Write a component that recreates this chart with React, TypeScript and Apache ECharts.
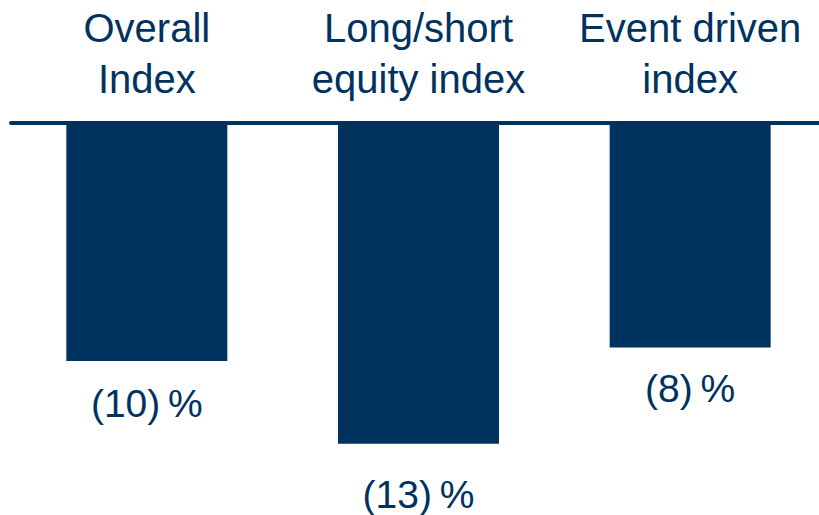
import React, { useEffect, useRef } from "react";
import * as echarts from "echarts";

const categories = ["Overall\nIndex", "Long/short\nequity index", "Event driven\nindex"];
const values = [-9.65, -13.0, -9.1];
const valueLabels = ["(10)\u2009%", "(13)\u2009%", "(8)\u2009%"];
const labelGaps = [23, 31, 21];

const NAVY = "#00325F";
const FONT = "'Liberation Sans', Arial, Helvetica, sans-serif";

export default function App() {
  const ref = useRef<HTMLDivElement>(null);
  useEffect(() => {
    const chart = echarts.init(ref.current!, null, { renderer: "svg" });
    chart.setOption({
      animation: false,
      backgroundColor: "#ffffff",
      grid: { left: 11, right: 0, top: 123, height: 345.4, containLabel: false },
      xAxis: {
        type: "category",
        position: "top",
        data: categories,
        boundaryGap: true,
        axisLine: { show: true, lineStyle: { color: NAVY, width: 4, cap: "round" } },
        axisTick: { show: false },
        axisLabel: {
          color: NAVY,
          fontSize: 40,
          lineHeight: 50.6,
          fontFamily: FONT,
          margin: 19,
          interval: 0,
          align: "center",
        },
        z: 10,
      },
      yAxis: {
        type: "value",
        min: -14,
        max: 0,
        show: false,
        splitLine: { show: false },
      },
      series: [
        {
          type: "bar",
          barWidth: 161,
          itemStyle: { color: NAVY },
          data: values.map((v, i) => ({
            value: v,
            label: { distance: labelGaps[i] },
          })),
          label: {
            show: true,
            position: "bottom",
            color: NAVY,
            fontSize: 39,
            lineHeight: 39,
            fontFamily: FONT,
            formatter: (p: any) => valueLabels[p.dataIndex],
          },
          z: 2,
        },
      ],
    });
    return () => chart.dispose();
  }, []);
  return (
    <div style={{ width: 819, height: 515, position: "absolute", left: 0, top: 0, overflow: "hidden", background: "#fff" }}>
      <div ref={ref} style={{ width: 826, height: 515 }} />
    </div>
  );
}
